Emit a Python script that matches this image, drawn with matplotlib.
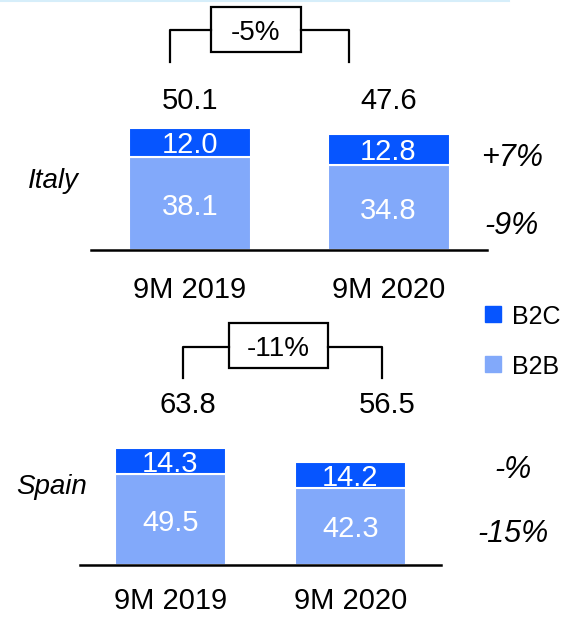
import matplotlib
matplotlib.use("Agg")
import matplotlib.pyplot as plt
from matplotlib.patches import Rectangle
from matplotlib.lines import Line2D

plt.rcParams["font.family"] = ["Liberation Sans", "DejaVu Sans"]

# Datos
periodos = ["9M 2019", "9M 2020"]
paises = ["Italy", "Spain"]
b2b = {"Italy": [38.1, 34.8], "Spain": [49.5, 42.3]}
b2c = {"Italy": [12.0, 12.8], "Spain": [14.3, 14.2]}
var_total = {"Italy": "-5%", "Spain": "-11%"}
var_b2c = {"Italy": "+7%", "Spain": "-%"}
var_b2b = {"Italy": "-9%", "Spain": "-15%"}

color_b2c = "#0655FF"
color_b2b = "#82A9FA"

W, H = 576, 617
fig = plt.figure(figsize=(W / 100, H / 100), dpi=100)


def fx(x):
    return x / W


def fy(y):
    return 1 - y / H


# Disposicion de cada panel en pixeles
layout = {
    "Italy": dict(left=91, right=487, base=250, scale=2.44, c0=190, c1=388.5,
                  width=122, tot_x=(190, 388.5), tot_y=98, cat_y=287, lab=(53, 178),
                  bracket=(170, 349, 62, 30, 211, 301, 7, 52),
                  g_b2c=(512, 155), g_b2b=(512, 222)),
    "Spain": dict(left=80, right=441, base=565, scale=1.83, c0=170.5, c1=350.5,
                  width=111, tot_x=(188, 387), tot_y=402, cat_y=598, lab=(52, 484),
                  bracket=(183, 382, 378, 347, 229, 328, 323, 368),
                  g_b2c=(513, 467), g_b2b=(513, 530)),
}

for pais in paises:
    L = layout[pais]
    alto = 130
    ax = fig.add_axes([fx(L["left"]), fy(L["base"]), (L["right"] - L["left"]) / W, alto / H])
    sep = L["c1"] - L["c0"]
    ax.set_xlim(-(L["c0"] - L["left"]) / sep, 1 + (L["right"] - L["c1"]) / sep)
    ax.set_ylim(0, alto / L["scale"])
    ancho = L["width"] / sep
    x = [0, 1]

    ax.bar(x, b2b[pais], ancho, color=color_b2b, edgecolor="white", linewidth=1.5)
    ax.bar(x, b2c[pais], ancho, bottom=b2b[pais], color=color_b2c, edgecolor="white", linewidth=1.5)

    for i in x:
        ax.text(i, b2b[pais][i] / 2, f"{b2b[pais][i]:.1f}", color="white",
                ha="center", va="center_baseline", fontsize=21)
        ax.text(i, b2b[pais][i] + b2c[pais][i] / 2, f"{b2c[pais][i]:.1f}", color="white",
                ha="center", va="center_baseline", fontsize=21)
        total = b2b[pais][i] + b2c[pais][i]
        fig.text(fx(L["tot_x"][i]), fy(L["tot_y"]), f"{total:.1f}",
                 ha="center", va="center_baseline", fontsize=21)
        ax.text(i, (L["base"] - L["cat_y"]) / alto, periodos[i],
                transform=ax.get_xaxis_transform(), ha="center", va="center_baseline",
                fontsize=21, clip_on=False)

    for s in ["top", "right", "left"]:
        ax.spines[s].set_visible(False)
    ax.spines["bottom"].set_linewidth(1.8)
    ax.set_xticks([])
    ax.set_yticks([])
    ax.patch.set_alpha(0)

    # Nombre del pais
    fig.text(fx(L["lab"][0]), fy(L["lab"][1]), pais, style="italic", fontsize=20,
             ha="center", va="center_baseline")

    # Corchete con la variacion total
    xl, xr, yb, yh, bx0, bx1, by0, by1 = L["bracket"]
    fig.add_artist(Line2D([fx(xl), fx(xl), fx(bx0)], [fy(yb), fy(yh), fy(yh)], color="black", lw=1.6))
    fig.add_artist(Line2D([fx(bx1), fx(xr), fx(xr)], [fy(yh), fy(yh), fy(yb)], color="black", lw=1.6))
    fig.add_artist(Rectangle((fx(bx0), fy(by1)), fx(bx1) - fx(bx0), fy(by0) - fy(by1),
                             transform=fig.transFigure, fill=False, edgecolor="black", lw=1.6))
    fig.text(fx((bx0 + bx1) / 2), fy((by0 + by1) / 2), var_total[pais], fontsize=20,
             ha="center", va="center_baseline")

    # Variaciones por segmento
    fig.text(fx(L["g_b2c"][0]), fy(L["g_b2c"][1]), var_b2c[pais], style="italic",
             fontsize=22, ha="center", va="center_baseline")
    fig.text(fx(L["g_b2b"][0]), fy(L["g_b2b"][1]), var_b2b[pais], style="italic",
             fontsize=22, ha="center", va="center_baseline")

# Leyenda
for nombre, color, yc in [("B2C", color_b2c, 314), ("B2B", color_b2b, 364)]:
    fig.add_artist(Rectangle((fx(485), fy(yc + 8)), 16 / W, 16 / H,
                             transform=fig.transFigure, color=color))
    fig.text(fx(512), fy(yc), nombre, fontsize=18, ha="left", va="center_baseline")

# Linea superior decorativa
fig.add_artist(Line2D([0, fx(509)], [fy(0.8), fy(0.8)], color="#D6EEFA", lw=1.5))

fig.savefig("out.png", dpi=100)
